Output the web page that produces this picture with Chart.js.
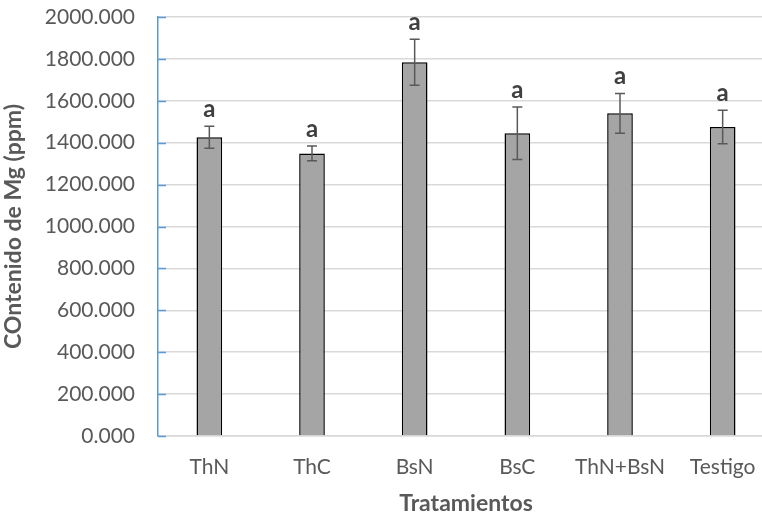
<!DOCTYPE html>
<html>
<head>
<meta charset="utf-8">
<script src="https://cdn.jsdelivr.net/npm/chart.js@4/dist/chart.umd.min.js"></script>
<style>
  html, body { margin: 0; padding: 0; background: #fff; overflow: hidden; }
  #wrap { width: 774px; height: 519px; position: relative; }
</style>
</head>
<body>
<div id="wrap"><canvas id="c"></canvas></div>
<script>
const categories = ["ThN", "ThC", "BsN", "BsC", "ThN+BsN", "Testigo"];
const meanMg = [1426, 1349, 1784, 1445, 1540, 1475];
const errMg = [53, 35, 110, 125, 95, 80];
const letters = ["a", "a", "a", "a", "a", "a"];
const yTitle = "COntenido de Mg (ppm)";
const xTitle = "Tratamientos";

const FONT = "Lato, 'Open Sans', sans-serif";

const errorBarPlugin = {
  id: 'errorBars',
  afterDatasetsDraw(chart) {
    const ctx = chart.ctx;
    const meta = chart.getDatasetMeta(0);
    const y = chart.scales.y;
    ctx.save();
    meta.data.forEach((bar, i) => {
      const x = bar.x;
      const top = y.getPixelForValue(meanMg[i] + errMg[i]);
      const bot = y.getPixelForValue(meanMg[i] - errMg[i]);
      ctx.strokeStyle = '#595959';
      ctx.lineWidth = 1.5;
      ctx.beginPath();
      ctx.moveTo(x, top); ctx.lineTo(x, bot);
      ctx.moveTo(x - 5, top); ctx.lineTo(x + 5, top);
      ctx.moveTo(x - 5, bot); ctx.lineTo(x + 5, bot);
      ctx.stroke();
      ctx.fillStyle = '#404040';
      ctx.font = "bold 24px " + FONT;
      ctx.textAlign = 'center';
      ctx.textBaseline = 'alphabetic';
      ctx.fillText(letters[i], x, top - 9);
    });
    // inward tick marks on y axis
    ctx.strokeStyle = '#5B9BD5';
    ctx.lineWidth = 1.5;
    ctx.beginPath();
    y.ticks.forEach(t => {
      const py = Math.round(y.getPixelForValue(t.value)) + 0.5;
      ctx.moveTo(chart.chartArea.left, py);
      ctx.lineTo(chart.chartArea.left + 8, py);
    });
    ctx.stroke();
    ctx.restore();
  }
};

new Chart(document.getElementById('c'), {
  type: 'bar',
  data: {
    labels: categories,
    datasets: [{
      data: meanMg,
      backgroundColor: '#a5a5a5',
      borderColor: '#000000',
      borderWidth: 1.5,
      barPercentage: 0.5,
      categoryPercentage: 0.5
    }]
  },
  options: {
    responsive: true,
    maintainAspectRatio: false,
    animation: false,
    layout: { padding: { top: 17, left: 0, right: 0, bottom: 0 } },
    plugins: { legend: { display: false }, tooltip: { enabled: false } },
    scales: {
      x: {
        grid: { display: false, drawTicks: false },
        border: { color: '#d9d9d9', width: 1.5 },
        ticks: { color: '#595959', font: { family: FONT, size: 21 }, padding: 19 },
        title: { display: true, text: xTitle, color: '#595959',
                 font: { family: FONT, size: 23, weight: 'bold' }, padding: { top: 4, bottom: 2 } },
        afterFit: s => { s.height = 83; s.paddingLeft = 0; s.paddingRight = 0; }
      },
      y: {
        min: 0, max: 2000,
        ticks: { stepSize: 200, color: '#595959', font: { family: FONT, size: 21 }, padding: 23,
                 callback: v => Number(v).toFixed(3) },
        grid: { color: '#d9d9d9', lineWidth: 1.5, drawTicks: false },
        border: { color: '#5B9BD5', width: 1.5 },
        title: { display: true, text: yTitle, color: '#595959',
                 font: { family: FONT, size: 23, weight: 'bold' }, padding: { top: 0, bottom: 9 } },
        afterFit: s => { s.width = 158; s.paddingTop = 0; s.paddingBottom = 0; }
      }
    }
  },
  plugins: [errorBarPlugin]
});
</script>
</body>
</html>
